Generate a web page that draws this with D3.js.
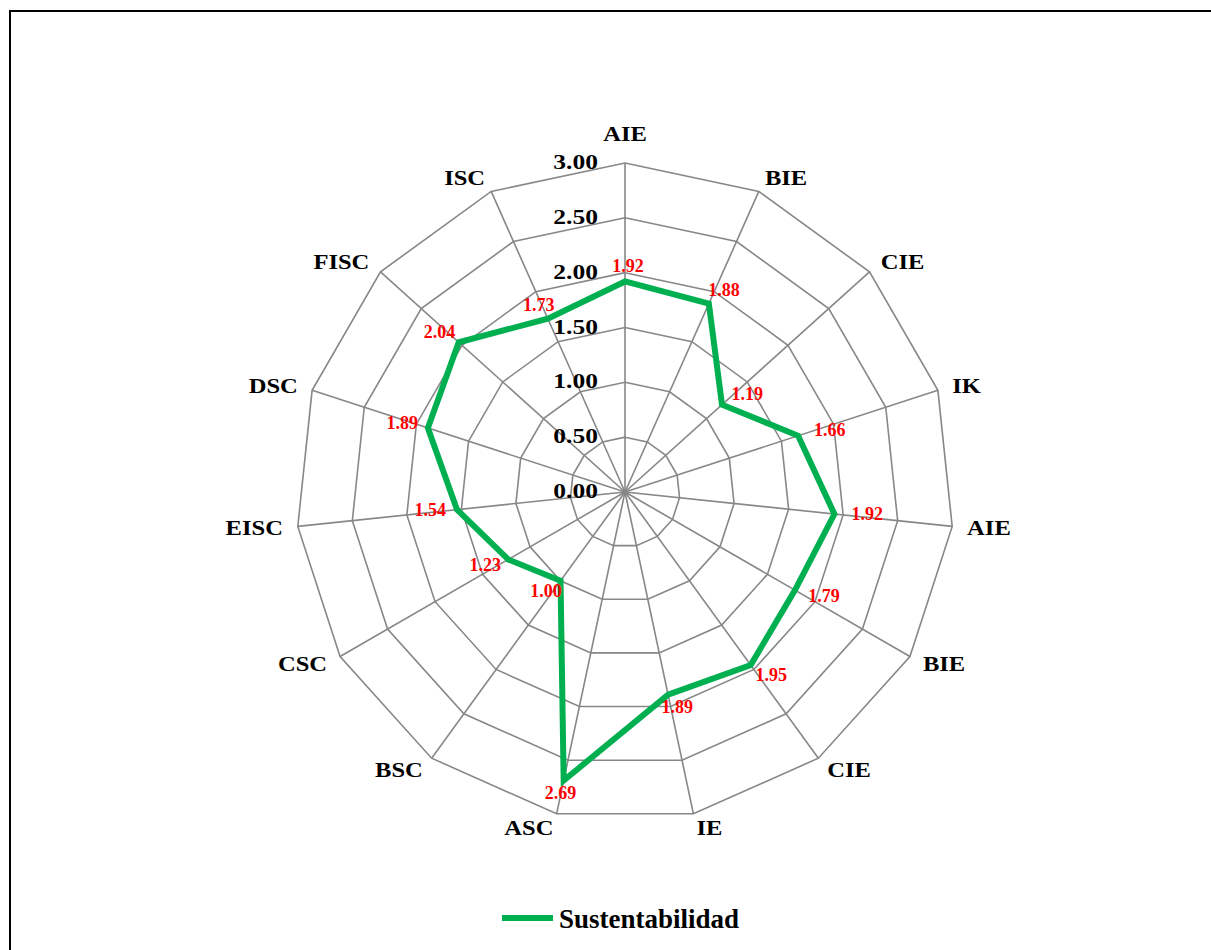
<!DOCTYPE html>
<html>
<head>
<meta charset="utf-8">
<script src="https://cdn.jsdelivr.net/npm/d3@7"></script>
<style>
  body { margin: 0; background: #fff; }
  svg { display: block; }
  text { font-family: "Liberation Serif", "Times New Roman", serif; font-weight: bold; }
</style>
</head>
<body>
<div class="radar-canvas"></div>
<script>
const categories = ["AIE", "BIE", "CIE", "IK", "AIE", "BIE", "CIE", "IE", "ASC", "BSC", "CSC", "EISC", "DSC", "FISC", "ISC"];
const sustentabilidad = [1.92, 1.88, 1.19, 1.66, 1.92, 1.79, 1.95, 1.89, 2.69, 1.00, 1.23, 1.54, 1.89, 2.04, 1.73];
const tickLabels = ["0.00", "0.50", "1.00", "1.50", "2.00", "2.50", "3.00"];
const seriesName = "Sustentabilidad";

const width = 1211;
const height = 950;
const cx = 625;
const cy = 492;
const radius = 329;

const svg = d3.select(".radar-canvas")
  .append("svg")
  .attr("width", width)
  .attr("height", height);

// chart frame (right and bottom edges fall outside the picture)
svg.append("rect")
  .attr("x", 10)
  .attr("y", 11)
  .attr("width", 1220)
  .attr("height", 960)
  .attr("fill", "none")
  .attr("stroke", "#000")
  .attr("stroke-width", 2);

const ticks = tickLabels.map(Number);

let r = d3.scaleLinear()
  .domain([0, d3.max(ticks)])
  .range([0, radius]);

let angle = d3.scaleLinear()
  .domain([0, categories.length])
  .range([0, 2 * Math.PI]);

const g = svg.append("g")
  .attr("transform", `translate(${cx},${cy})`);

// grid rings
let ring = t => d3.lineRadial()
  .angle((d, i) => angle(i))
  .radius(() => r(t))
  .curve(d3.curveLinearClosed)(categories);

g.append("g")
  .selectAll("path")
  .data(ticks.filter(t => t > 0))
  .join("path")
  .attr("d", d => ring(d))
  .attr("fill", "none")
  .attr("stroke", "#878787")
  .attr("stroke-width", 1.6);

// spokes
g.append("g")
  .selectAll("line")
  .data(categories)
  .join("line")
  .attr("x1", 0)
  .attr("y1", 0)
  .attr("x2", (d, i) => r(d3.max(ticks)) * Math.sin(angle(i)))
  .attr("y2", (d, i) => -r(d3.max(ticks)) * Math.cos(angle(i)))
  .attr("stroke", "#878787")
  .attr("stroke-width", 1.6);

// value axis labels, left of the top spoke
g.append("g")
  .selectAll("text")
  .data(ticks)
  .join("text")
  .attr("transform", d => `translate(-27,${-r(d) + 6}) scale(1.16,1)`)
  .attr("text-anchor", "end")
  .attr("font-size", 22)
  .attr("fill", "#000")
  .text((d, i) => tickLabels[i]);

// category labels
g.append("g")
  .selectAll("text")
  .data(categories)
  .join("text")
  .attr("transform", (d, i) => {
    let a = angle(i);
    let rr = r(d3.max(ticks)) + 15;
    let x = rr * Math.sin(a);
    let y = -rr * Math.cos(a) + 7;
    if (Math.abs(Math.sin(a)) < 0.05) y = -r(d3.max(ticks)) - 22;
    return `translate(${x},${y}) scale(1.17,1)`;
  })
  .attr("text-anchor", (d, i) => {
    let s = Math.sin(angle(i));
    return Math.abs(s) < 0.05 ? "middle" : (s > 0 ? "start" : "end");
  })
  .attr("font-size", 21)
  .attr("fill", "#000")
  .text(d => d);

// series line
let line = d3.lineRadial()
  .angle((d, i) => angle(i))
  .radius(d => r(d))
  .curve(d3.curveLinearClosed);

g.append("path")
  .attr("d", line(sustentabilidad))
  .attr("fill", "none")
  .attr("stroke", "#00B050")
  .attr("stroke-width", 6)
  .attr("stroke-linejoin", "miter");

// data labels, pushed out from each point
g.append("g")
  .selectAll("text")
  .data(sustentabilidad)
  .join("text")
  .attr("x", (d, i) => r(d) * Math.sin(angle(i)) + 30 * Math.sin(angle(i)) + 3)
  .attr("y", (d, i) => -r(d) * Math.cos(angle(i)) - 14 * Math.cos(angle(i)) + 5)
  .attr("text-anchor", "middle")
  .attr("font-size", 18)
  .attr("fill", "#FF0000")
  .text(d => d3.format(".2f")(d));

// legend
const legend = svg.append("g")
  .attr("transform", "translate(502,918)");

legend.append("line")
  .attr("x1", 0)
  .attr("x2", 51)
  .attr("y1", 0)
  .attr("y2", 0)
  .attr("stroke", "#00B050")
  .attr("stroke-width", 6);

legend.append("text")
  .attr("x", 57)
  .attr("y", 10)
  .attr("font-size", 27)
  .attr("fill", "#000")
  .text(seriesName);
</script>
</body>
</html>
